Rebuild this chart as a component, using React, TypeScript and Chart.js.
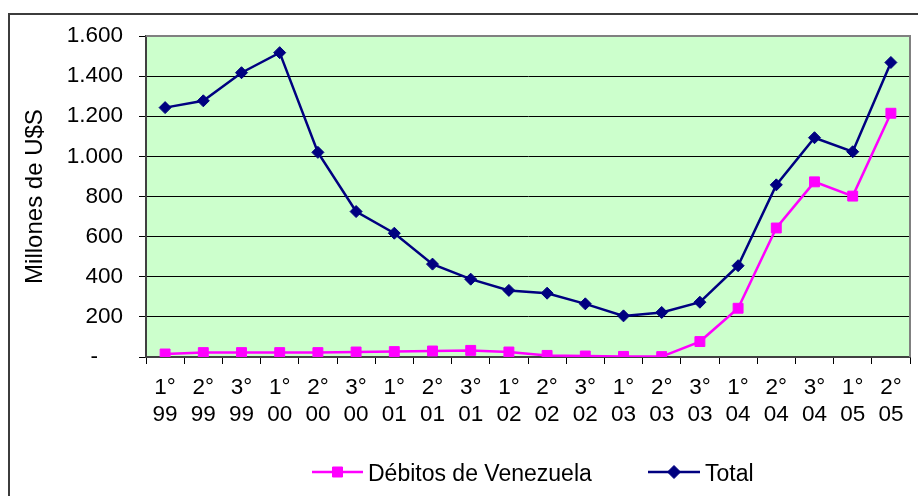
import React, { useEffect, useRef } from "react";
import { Chart, registerables } from "chart.js";

Chart.register(...registerables);

const periodLabels: string[][] = [
  ["1°", "99"], ["2°", "99"], ["3°", "99"],
  ["1°", "00"], ["2°", "00"], ["3°", "00"],
  ["1°", "01"], ["2°", "01"], ["3°", "01"],
  ["1°", "02"], ["2°", "02"], ["3°", "02"],
  ["1°", "03"], ["2°", "03"], ["3°", "03"],
  ["1°", "04"], ["2°", "04"], ["3°", "04"],
  ["1°", "05"], ["2°", "05"],
];

const debitosVenezuela: number[] = [
  15, 22, 22, 22, 22, 25, 27, 30, 33, 25, 8, 5, 3, 2, 77, 243, 643, 873, 802, 1215,
];

const total: number[] = [
  1243, 1277, 1417, 1517, 1020, 725, 617, 463, 388, 332, 318, 265, 205, 222, 273, 455, 858, 1093, 1023, 1468,
];

const seriesNames: string[] = ["Débitos de Venezuela", "Total"];
const seriesColors: string[] = ["#FF00FF", "#000080"];
const yTicks: number[] = [0, 200, 400, 600, 800, 1000, 1200, 1400, 1600];
const yTitle = "Millones de U$S";

const FONT = '"Liberation Sans", Arial, sans-serif';

function fmt(v: number): string {
  if (v === 0) return "-    ";
  return String(v).replace(/\B(?=(\d{3})+(?!\d))/g, ".");
}

export default function App() {
  const ref = useRef<HTMLCanvasElement | null>(null);

  useEffect(() => {
    if (!ref.current) return;

    const bgPlugin = {
      id: "plotBg",
      beforeDraw(chart: any) {
        const { ctx, chartArea: a } = chart;
        ctx.save();
        ctx.fillStyle = "#CCFFCC";
        ctx.fillRect(a.left, a.top, a.right - a.left, a.bottom - a.top);
        ctx.restore();
      },
      beforeDatasetsDraw(chart: any) {
        const { ctx, chartArea: a } = chart;
        ctx.save();
        ctx.strokeStyle = "#808080";
        ctx.lineWidth = 2;
        ctx.beginPath();
        ctx.moveTo(a.left, a.top);
        ctx.lineTo(a.right, a.top);
        ctx.lineTo(a.right, a.bottom);
        ctx.stroke();
        ctx.restore();
      },
      afterDraw(chart: any) {
        const { ctx } = chart;
        const y = 472;
        const items = [
          { x0: 312, x1: 363, tx: 368, style: "rect" },
          { x0: 648, x1: 700, tx: 705, style: "rectRot" },
        ];
        ctx.save();
        items.forEach((it, i) => {
          const color = seriesColors[i];
          ctx.strokeStyle = color;
          ctx.lineWidth = 2.5;
          ctx.beginPath();
          ctx.moveTo(it.x0, y);
          ctx.lineTo(it.x1, y);
          ctx.stroke();
          ctx.fillStyle = color;
          ctx.lineWidth = 1;
          const cx = (it.x0 + it.x1) / 2;
          ctx.beginPath();
          if (it.style === "rect") {
            ctx.rect(cx - 5, y - 5, 10, 10);
          } else {
            ctx.moveTo(cx, y - 6.5);
            ctx.lineTo(cx + 6.5, y);
            ctx.lineTo(cx, y + 6.5);
            ctx.lineTo(cx - 6.5, y);
            ctx.closePath();
          }
          ctx.fill();
          ctx.stroke();
          ctx.fillStyle = "#000";
          ctx.font = `23px ${FONT}`;
          ctx.textBaseline = "alphabetic";
          ctx.textAlign = "left";
          ctx.fillText(seriesNames[i], it.tx, 481);
        });
        ctx.restore();
      },
    };

    const chart = new Chart(ref.current, {
      type: "line",
      data: {
        labels: periodLabels,
        datasets: [
          {
            label: seriesNames[0],
            data: debitosVenezuela,
            borderColor: seriesColors[0],
            backgroundColor: seriesColors[0],
            borderWidth: 2.5,
            pointStyle: "rect",
            pointRadius: 7,
            pointBorderWidth: 1,
            tension: 0,
          },
          {
            label: seriesNames[1],
            data: total,
            borderColor: seriesColors[1],
            backgroundColor: seriesColors[1],
            borderWidth: 2.5,
            pointStyle: "rectRot",
            pointRadius: 6,
            pointBorderWidth: 1,
            tension: 0,
          },
        ],
      },
      options: {
        animation: false,
        responsive: false,
        maintainAspectRatio: false,
        events: [],
        layout: { padding: { left: 0, top: 36, right: 6, bottom: 0 } },
        plugins: {
          legend: { display: false },
          tooltip: { enabled: false },
          title: { display: false },
        },
        scales: {
          x: {
            type: "category",
            offset: true,
            grid: {
              offset: true,
              drawOnChartArea: false,
              drawTicks: true,
              tickLength: 7,
              color: "#000",
              lineWidth: 1,
            },
            border: { display: true, color: "#404040", width: 2 },
            ticks: {
              color: "#000",
              font: { family: FONT, size: 22.5, lineHeight: 1.22 },
              padding: 10,
              maxRotation: 0,
              autoSkip: false,
            },
            afterFit(scale: any) {
              scale.height = 139;
            },
          },
          y: {
            min: 0,
            max: 1600,
            afterBuildTicks(scale: any) {
              scale.ticks = yTicks.map((v) => ({ value: v }));
            },
            grid: {
              drawOnChartArea: true,
              drawTicks: true,
              tickLength: 7,
              color: "#000",
              lineWidth: 1,
            },
            border: { display: true, color: "#404040", width: 2 },
            ticks: {
              color: "#000",
              font: { family: FONT, size: 22.5 },
              padding: 16,
              callback: (v: any) => fmt(Number(v)),
            },
            title: {
              display: true,
              text: yTitle,
              color: "#000",
              font: { family: FONT, size: 24, lineHeight: 1.2 },
              padding: { top: 21, bottom: 0 },
            },
            afterFit(scale: any) {
              scale.width = 146;
            },
          },
        },
      },
      plugins: [bgPlugin],
    });
    return () => chart.destroy();
  }, []);

  return (
    <div style={{ position: "fixed", left: 0, top: 0, width: 918, height: 496, background: "#fff", overflow: "hidden" }}>
      <div
        style={{
          position: "absolute",
          left: 8,
          top: 13,
          width: 1200,
          height: 1200,
          borderLeft: "2px solid #3c3c3c",
          borderTop: "2px solid #3c3c3c",
        }}
      />
      <canvas ref={ref} width={918} height={496} style={{ position: "absolute", left: 0, top: 0, width: 918, height: 496 }} />
    </div>
  );
}
